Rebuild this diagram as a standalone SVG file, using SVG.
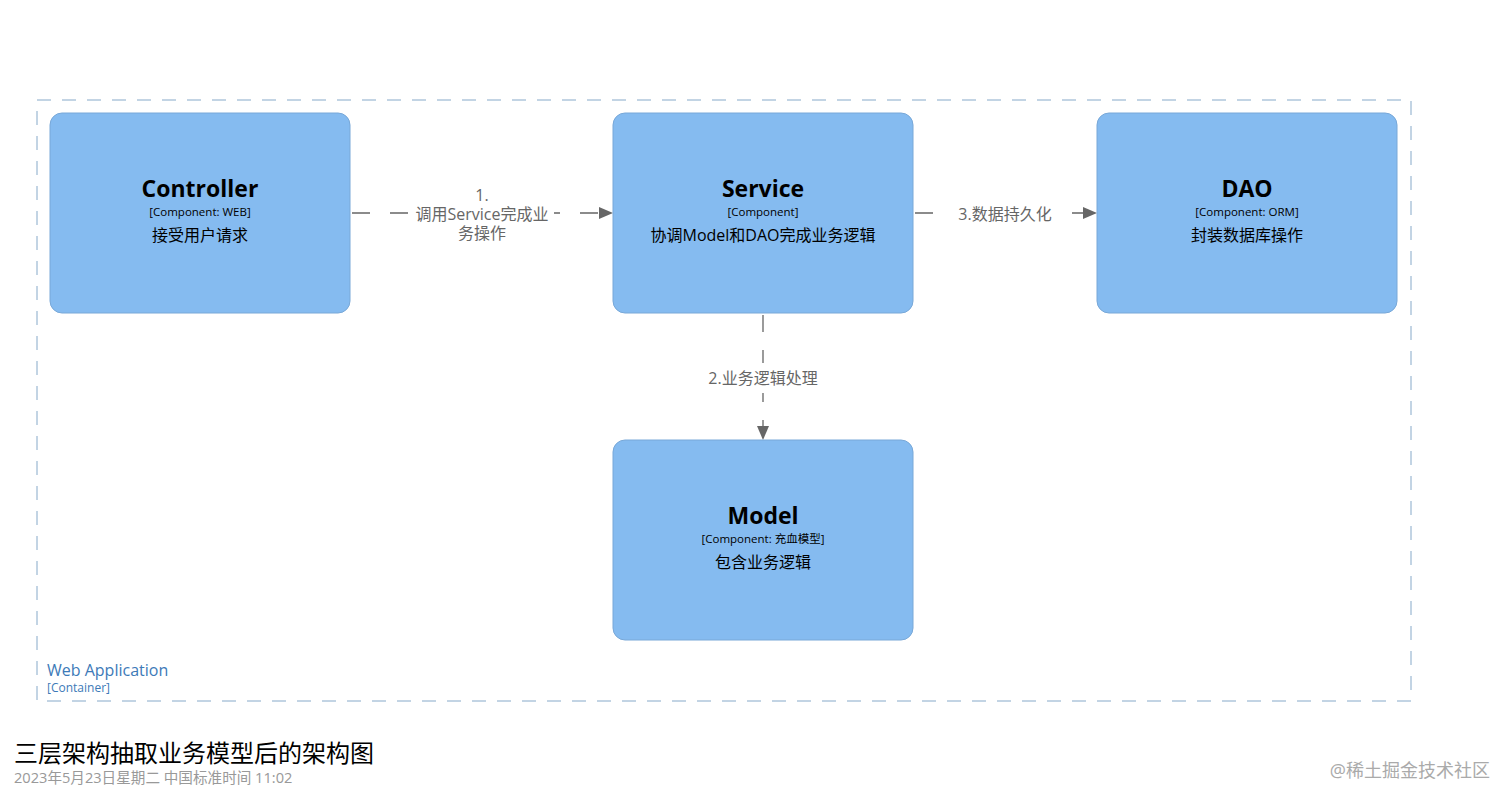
<svg xmlns="http://www.w3.org/2000/svg" width="1512" height="802" viewBox="0 0 1512 802">
<style>
text{font-family:"Open Sans","Noto Sans CJK SC",sans-serif}
.node{fill:#85bbf0;stroke:#78a8d8;stroke-width:1}
.nt{font-size:23px;font-weight:bold;fill:#000;text-anchor:middle}
.nc{font-size:11.5px;fill:#000;text-anchor:middle}
.nd{font-size:16px;fill:#000;text-anchor:middle}
.conn{stroke:#666;stroke-width:1.3;fill:none;stroke-dasharray:18 20}
.lbl{font-size:16px;fill:#666;text-anchor:middle}
.bg{fill:#fff}
</style>
<defs>
<marker id="arr" viewBox="0 0 14 12" refX="14" refY="6" markerWidth="14" markerHeight="12" markerUnits="userSpaceOnUse" orient="auto">
<path d="M0,0 L14,6 L0,12 Z" fill="#666"/>
</marker>
</defs>
<rect width="1512" height="802" fill="#fff"/>
<g id="boundary">
<rect x="37" y="100" width="1374" height="601" fill="none" stroke="#86a9c9" stroke-width="1" stroke-dasharray="14 11"/>
<text x="47" y="676" font-size="16" fill="#3d7ab8">Web Application</text>
<text x="47" y="692" font-size="12" fill="#3d7ab8">[Container]</text>
</g>
<g id="connectors">
<line class="conn" x1="352" y1="213" x2="613" y2="213" marker-end="url(#arr)"/>
<rect class="bg" x="410" y="183" width="144" height="60"/>
<text class="lbl" x="482" y="201">1.</text>
<text class="lbl" x="482" y="220">调用Service完成业</text>
<text class="lbl" x="482" y="239">务操作</text>
<line class="conn" x1="915" y1="213" x2="1097" y2="213" marker-end="url(#arr)"/>
<rect class="bg" x="938" y="200" width="134" height="28"/>
<text class="lbl" x="1005" y="220">3.数据持久化</text>
<line class="conn" x1="763" y1="315" x2="763" y2="440" marker-end="url(#arr)" style="stroke-dasharray:17 18"/>
<rect class="bg" x="700" y="363" width="126" height="30"/>
<text class="lbl" x="763" y="384">2.业务逻辑处理</text>
</g>
<g id="controller">
<rect class="node" x="50" y="113" width="300" height="200" rx="12"/>
<text class="nt" x="200" y="197">Controller</text>
<text class="nc" x="200" y="216">[Component: WEB]</text>
<text class="nd" x="200" y="241">接受用户请求</text>
</g>
<g id="service">
<rect class="node" x="613" y="113" width="300" height="200" rx="12"/>
<text class="nt" x="763" y="197">Service</text>
<text class="nc" x="763" y="216">[Component]</text>
<text class="nd" x="763" y="241">协调Model和DAO完成业务逻辑</text>
</g>
<g id="dao">
<rect class="node" x="1097" y="113" width="300" height="200" rx="12"/>
<text class="nt" x="1247" y="197">DAO</text>
<text class="nc" x="1247" y="216">[Component: ORM]</text>
<text class="nd" x="1247" y="241">封装数据库操作</text>
</g>
<g id="model">
<rect class="node" x="613" y="440" width="300" height="200" rx="12"/>
<text class="nt" x="763" y="524">Model</text>
<text class="nc" x="763" y="543">[Component: 充血模型]</text>
<text class="nd" x="763" y="568">包含业务逻辑</text>
</g>
<g id="footer">
<text x="14" y="762" font-size="24" fill="#000">三层架构抽取业务模型后的架构图</text>
<text x="14" y="783" font-size="14.6" fill="#999">2023年5月23日星期二 中国标准时间 11:02</text>
<text x="1490" y="777" font-size="18" fill="#aaa" text-anchor="end">@稀土掘金技术社区</text>
</g>
</svg>
